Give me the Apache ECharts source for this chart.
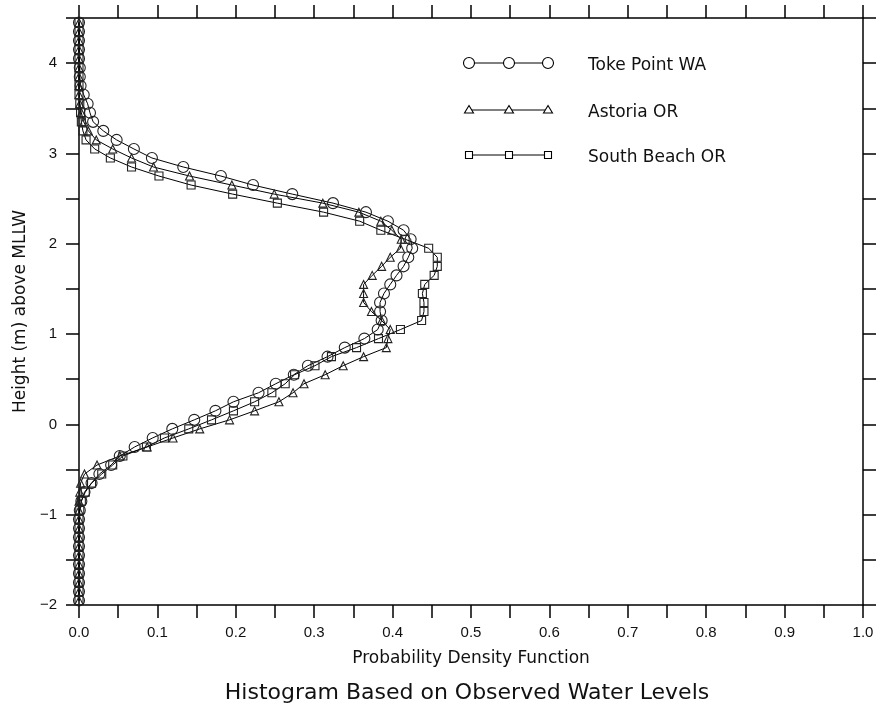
<!DOCTYPE html>
<html>
<head>
<meta charset="utf-8">
<script src="https://cdn.jsdelivr.net/npm/echarts@6/dist/echarts.min.js"></script>
<style>
html,body{margin:0;padding:0;background:#fff;}
#chart{width:881px;height:706px;}
</style>
</head>
<body>
<div id="chart"></div>
<script>
// Bin-centre heights (m above MLLW)
const heights = [-1.95,-1.85,-1.75,-1.65,-1.55,-1.45,-1.35,-1.25,-1.15,-1.05,
  -0.95,-0.85,-0.75,-0.65,-0.55,-0.45,-0.35,-0.25,-0.15,-0.05,
  0.05,0.15,0.25,0.35,0.45,0.55,0.65,0.75,0.85,0.95,
  1.05,1.15,1.25,1.35,1.45,1.55,1.65,1.75,1.85,1.95,
  2.05,2.15,2.25,2.35,2.45,2.55,2.65,2.75,2.85,2.95,
  3.05,3.15,3.25,3.35,3.45,3.55,3.65,3.75,3.85,3.95,
  4.05,4.15,4.25,4.35,4.45];

const tokePoint = [0,0,0,0,0,0,0,0,0,0,
  0.001,0.003,0.007,0.016,0.026,0.041,0.052,0.071,0.094,0.119,
  0.147,0.174,0.197,0.229,0.251,0.274,0.292,0.317,0.339,0.364,
  0.381,0.386,0.384,0.384,0.389,0.397,0.405,0.414,0.420,0.425,
  0.423,0.414,0.394,0.366,0.324,0.272,0.222,0.181,0.133,0.093,
  0.070,0.048,0.031,0.018,0.014,0.011,0.006,0.002,0.001,0.001,
  0,0,0,0,0];

const astoria = [0,0,0,0,0,0,0,0,0,0,
  0,0,0.001,0.002,0.007,0.023,0.052,0.087,0.120,0.154,
  0.192,0.224,0.255,0.273,0.287,0.314,0.337,0.363,0.392,0.394,
  0.397,0.386,0.373,0.363,0.363,0.363,0.374,0.386,0.397,0.410,
  0.411,0.399,0.385,0.357,0.311,0.249,0.195,0.141,0.095,0.067,
  0.043,0.022,0.012,0.006,0.003,0.001,0,0,0,0,
  0,0,0,0,0];

const southBeach = [0,0,0,0,0,0,0,0,0,0,
  0.001,0.003,0.008,0.016,0.029,0.043,0.056,0.086,0.109,0.140,
  0.169,0.197,0.224,0.246,0.263,0.275,0.301,0.322,0.354,0.382,
  0.410,0.437,0.440,0.440,0.438,0.441,0.453,0.457,0.457,0.446,
  0.416,0.385,0.358,0.312,0.253,0.196,0.143,0.102,0.067,0.040,
  0.020,0.009,0.005,0.003,0.002,0.001,0,0,0,0,
  0,0,0,0,0];

const seriesNames = ['Toke Point WA', 'Astoria OR', 'South Beach OR'];
const titleText = 'Histogram Based on Observed Water Levels';
const xName = 'Probability Density Function';
const yName = 'Height (m) above MLLW';

const TICK_FONT = '"Liberation Sans", Arial, sans-serif';
const TEXT_FONT = '"DejaVu Sans", sans-serif';
const axisLineStyle = {color:'#000', width:1.5};

function mkSeries(name, vals, symbol, size){
  return {
    name: name, type:'line',
    data: heights.map((h,i)=>[vals[i], h]),
    symbol: symbol, symbolSize: size,
    showSymbol: true, showAllSymbol: true,
    lineStyle: {color:'#000', width:1},
    itemStyle: {color:'rgba(0,0,0,0)', borderColor:'#222', borderWidth:1.1},
    emphasis: {disabled:true},
    animation: false, silent: true
  };
}

const chart = echarts.init(document.getElementById('chart'), null, {renderer:'canvas'});

// legend drawn as graphic (three markers on a line, as in the original)
const legRows = [63, 110, 155];
const legX = [469, 509, 548];
const graphics = [];
legRows.forEach((y, r) => {
  graphics.push({type:'line', shape:{x1:legX[0], y1:y, x2:legX[2], y2:y}, style:{stroke:'#000', lineWidth:1}});
  legX.forEach(x => {
    if (r === 0) graphics.push({type:'circle', shape:{cx:x, cy:y, r:5.5}, style:{fill:'#fff', stroke:'#000', lineWidth:1.1}});
    else if (r === 1) graphics.push({type:'polygon', shape:{points:[[x, y-4.5],[x+4.5, y+3],[x-4.5, y+3]]}, style:{fill:'#fff', stroke:'#000', lineWidth:1.1}});
    else graphics.push({type:'rect', shape:{x:x-3.5, y:y-3.5, width:7, height:7}, style:{fill:'#fff', stroke:'#000', lineWidth:1.1}});
  });
  graphics.push({type:'text', x:588, y:y+3, style:{text:seriesNames[r], font:'17px ' + TEXT_FONT, fill:'#111', textVerticalAlign:'middle', verticalAlign:'middle'}});
});
graphics.push({type:'text', x:467, y:693, style:{text:titleText, font:'22px ' + TEXT_FONT, fill:'#111', textAlign:'center', align:'center', textVerticalAlign:'middle', verticalAlign:'middle'}});

chart.setOption({
  backgroundColor:'#fff',
  animation:false,
  grid:{left:79, right:18, top:18, bottom:101, containLabel:false},
  xAxis:[{
    type:'value', min:0, max:1, interval:0.1, position:'bottom',
    axisLine:{show:true, onZero:false, lineStyle:axisLineStyle},
    axisTick:{show:true, inside:false, length:13, lineStyle:axisLineStyle},
    minorTick:{show:true, splitNumber:2, length:13, lineStyle:axisLineStyle},
    splitLine:{show:false}, minorSplitLine:{show:false},
    axisLabel:{formatter:v=>v.toFixed(1), fontSize:15, fontFamily:TICK_FONT, color:'#111', margin:20},
    name:xName, nameLocation:'middle', nameGap:45,
    nameTextStyle:{fontSize:17, fontFamily:TEXT_FONT, color:'#111'}
  },{
    type:'value', min:0, max:1, interval:0.05, position:'top',
    axisLine:{show:true, onZero:false, lineStyle:axisLineStyle},
    axisTick:{show:true, inside:false, length:13, lineStyle:axisLineStyle},
    splitLine:{show:false}, axisLabel:{show:false}
  }],
  yAxis:[{
    type:'value', min:-2, max:4.5, interval:0.5, position:'left',
    axisLine:{show:true, onZero:false, lineStyle:axisLineStyle},
    axisTick:{show:true, inside:false, length:13, lineStyle:axisLineStyle},
    splitLine:{show:false},
    axisLabel:{formatter:v=> (Math.abs(v - Math.round(v)) < 1e-6 ? String(Math.round(v)).replace('-', '\u2212') : ''),
      fontSize:15, fontFamily:TICK_FONT, color:'#111', margin:22},
    name:yName, nameLocation:'middle', nameGap:50,
    nameTextStyle:{fontSize:17, fontFamily:TEXT_FONT, color:'#111'}
  },{
    type:'value', min:-2, max:4.5, interval:0.5, position:'right',
    axisLine:{show:true, onZero:false, lineStyle:axisLineStyle},
    axisTick:{show:true, inside:false, length:13, lineStyle:axisLineStyle},
    splitLine:{show:false}, axisLabel:{show:false}
  }],
  graphic: graphics,
  series:[
    mkSeries(seriesNames[2], southBeach, 'rect', 8),
    mkSeries(seriesNames[1], astoria, 'triangle', 8),
    mkSeries(seriesNames[0], tokePoint, 'circle', 11)
  ]
});
</script>
</body>
</html>
